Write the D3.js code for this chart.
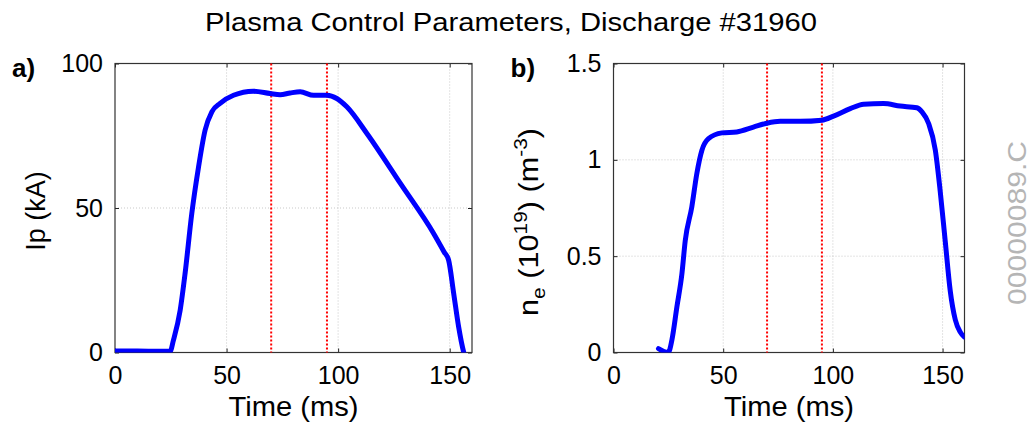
<!DOCTYPE html>
<html><head><meta charset="utf-8">
<script src="https://cdn.jsdelivr.net/npm/d3@7"></script>
<style>
body{margin:0;background:#fff;}
svg{font-family:"Liberation Sans",Arial,Helvetica,sans-serif;}
</style></head>
<body><svg id="c" width="1031" height="429"></svg>
<script>
const chartTitle = "Plasma Control Parameters, Discharge #31960";
const xTicks = [0, 50, 100, 150];
const markerTimes = [70, 95];
// Panel a: plasma current
const ipTime =   [0, 10, 20, 24.7, 26.2, 29.2, 31.4, 34.4, 37.4, 40.4, 43.4, 47.1, 53.1, 62, 69.5, 74, 78.5, 83, 89, 95, 99.4, 103.9, 112.9, 127.9, 142.8, 147.5, 149.5, 151.8, 154, 156.3, 157.5];
const ipValues = [0.5, 0.5, 0.4, 0.4, 4.3, 14.6, 27.3, 48, 64, 77, 83.3, 86.2, 89, 90.4, 89.6, 89.2, 89.8, 90.2, 89, 89, 87.9, 85, 75.8, 58.5, 41.2, 34.8, 32, 20.4, 8.9, 0, -3];
const ipTicks = [0, 50, 100];
// Panel b: electron density
const neTime =   [20.5, 25, 26.6, 28.9, 31.2, 32.7, 35.7, 38, 40.3, 43.3, 49.4, 56.2, 63.8, 69.9, 76, 85.1, 95, 100.3, 107.9, 114, 123.1, 130.7, 138.3, 140.6, 143.6, 146.7, 148.9, 151.2, 153.5, 155.8, 158, 160];
const neValues = [0.02, 0.0, 0.064, 0.237, 0.41, 0.58, 0.756, 0.93, 1.05, 1.11, 1.14, 1.145, 1.17, 1.19, 1.2, 1.2, 1.206, 1.227, 1.266, 1.289, 1.292, 1.279, 1.27, 1.249, 1.19, 1.05, 0.84, 0.58, 0.32, 0.17, 0.107, 0.08];
const neTicks = [0, 0.5, 1, 1.5];
const neTickLabels = ["0", "0.5", "1", "1.5"];

const svg = d3.select("#c");
svg.append("text").attr("x", 511).attr("y", 31).attr("text-anchor", "middle")
  .attr("font-size", 25).attr("fill", "#000")
  .attr("textLength", 612).attr("lengthAdjust", "spacingAndGlyphs").text(chartTitle);

function panel(opts){
  const {id, left, right, top, bottom, xs, ys, yDomain, yTicks, yLabels, tag} = opts;
  const x = d3.scaleLinear().domain([0,160]).range([left,right]);
  const y = d3.scaleLinear().domain(yDomain).range([bottom,top]);
  const g = svg.append("g");
  g.append("defs").append("clipPath").attr("id", "clip"+id)
    .append("rect").attr("x", left).attr("y", top).attr("width", right-left).attr("height", bottom-top);
  // grid
  g.append("g").selectAll("line").data(xTicks.filter(t=>t>0)).join("line")
    .attr("x1", d=>x(d)).attr("x2", d=>x(d)).attr("y1", top).attr("y2", bottom)
    .attr("stroke", "#bbb").attr("stroke-width", 0.8).attr("stroke-dasharray", "1,2");
  g.append("g").selectAll("line").data(yTicks.filter((t,i)=>i>0 && i<yTicks.length-1)).join("line")
    .attr("x1", left).attr("x2", right).attr("y1", d=>y(d)).attr("y2", d=>y(d))
    .attr("stroke", "#bbb").attr("stroke-width", 0.8).attr("stroke-dasharray", "1,2");
  // axes with inward ticks
  const axB = g.append("g").attr("transform", `translate(0,${bottom})`)
    .call(d3.axisBottom(x).tickValues(xTicks).tickSizeInner(-4).tickSizeOuter(0).tickPadding(14));
  const axT = g.append("g").attr("transform", `translate(0,${top})`)
    .call(d3.axisTop(x).tickValues(xTicks).tickSizeInner(-4).tickSizeOuter(0).tickFormat(""));
  const axL = g.append("g").attr("transform", `translate(${left},0)`)
    .call(d3.axisLeft(y).tickValues(yTicks).tickSizeInner(-4).tickSizeOuter(0).tickPadding(12)
      .tickFormat((d,i)=>yLabels[i]));
  const axR = g.append("g").attr("transform", `translate(${right},0)`)
    .call(d3.axisRight(y).tickValues(yTicks).tickSizeInner(-4).tickSizeOuter(0).tickFormat(""));
  [axB, axT, axL, axR].forEach(a=>{
    a.selectAll(".domain").remove();
    a.selectAll(".tick line").attr("stroke", "#222");
    a.selectAll("text").attr("font-size", 25).attr("fill", "#000").attr("font-family", "Liberation Sans, Arial, sans-serif");
  });
  axB.selectAll("text").attr("dy", "0.71em");
  // frame
  g.append("rect").attr("x", left).attr("y", top).attr("width", right-left).attr("height", bottom-top)
    .attr("fill", "none").attr("stroke", "#333").attr("stroke-width", 1.2);
  // red markers
  g.append("g").selectAll("line").data(markerTimes).join("line")
    .attr("x1", d=>x(d)).attr("x2", d=>x(d)).attr("y1", top).attr("y2", bottom)
    .attr("stroke", "#ff0000").attr("stroke-width", 2).attr("stroke-dasharray", "2,2");
  // data line
  const line = d3.line().x((d,i)=>x(xs[i])).y((d,i)=>y(ys[i])).curve(d3.curveMonotoneX);
  g.append("path").datum(xs).attr("d", line).attr("clip-path", `url(#clip${id})`)
    .attr("fill", "none").attr("stroke", "#0000ff").attr("stroke-width", 5)
    .attr("stroke-linejoin", "round").attr("stroke-linecap", "round");
  // x label
  g.append("text").attr("x", (left+right)/2).attr("y", 416).attr("text-anchor", "middle")
    .attr("font-size", 28).attr("fill", "#000")
    .attr("textLength", 130).attr("lengthAdjust", "spacingAndGlyphs").text("Time (ms)");
  // panel tag
  g.append("text").attr("x", left-103).attr("y", 77).attr("font-size", 26).attr("font-weight", "bold")
    .attr("fill", "#000").text(tag);
  return {x, y, g};
}

const pa = panel({id:"a", left:115, right:472, top:63.5, bottom:352.5, xs:ipTime, ys:ipValues,
  yDomain:[0,100], yTicks:ipTicks, yLabels:ipTicks.map(String), tag:"a)"});
pa.g.append("text").attr("transform", "translate(45,211) rotate(-90)").attr("text-anchor", "middle")
  .attr("font-size", 27).attr("fill", "#000").text("Ip (kA)");

const pb = panel({id:"b", left:613.5, right:964.5, top:63.5, bottom:352.5, xs:neTime, ys:neValues,
  yDomain:[0,1.5], yTicks:neTicks, yLabels:neTickLabels, tag:"b)"});
const yl = pb.g.append("text").attr("transform", "translate(538,222) rotate(-90)").attr("text-anchor", "middle")
  .attr("font-size", 28).attr("fill", "#000")
  .attr("textLength", 188).attr("lengthAdjust", "spacingAndGlyphs");
yl.append("tspan").text("n");
yl.append("tspan").attr("font-size", 19).attr("dy", 7).text("e");
yl.append("tspan").attr("dy", -7).text(" (10");
yl.append("tspan").attr("font-size", 19).attr("dy", -11).text("19");
yl.append("tspan").attr("dy", 11).text(") (m");
yl.append("tspan").attr("font-size", 19).attr("dy", -11).text("-3");
yl.append("tspan").attr("dy", 11).text(")");

svg.append("text").attr("transform", "translate(1026,223) rotate(-90)").attr("text-anchor", "middle")
  .attr("font-size", 25).attr("fill", "#b5b5b5")
  .attr("textLength", 164).attr("lengthAdjust", "spacingAndGlyphs").text("00000089.C");
</script></body></html>
